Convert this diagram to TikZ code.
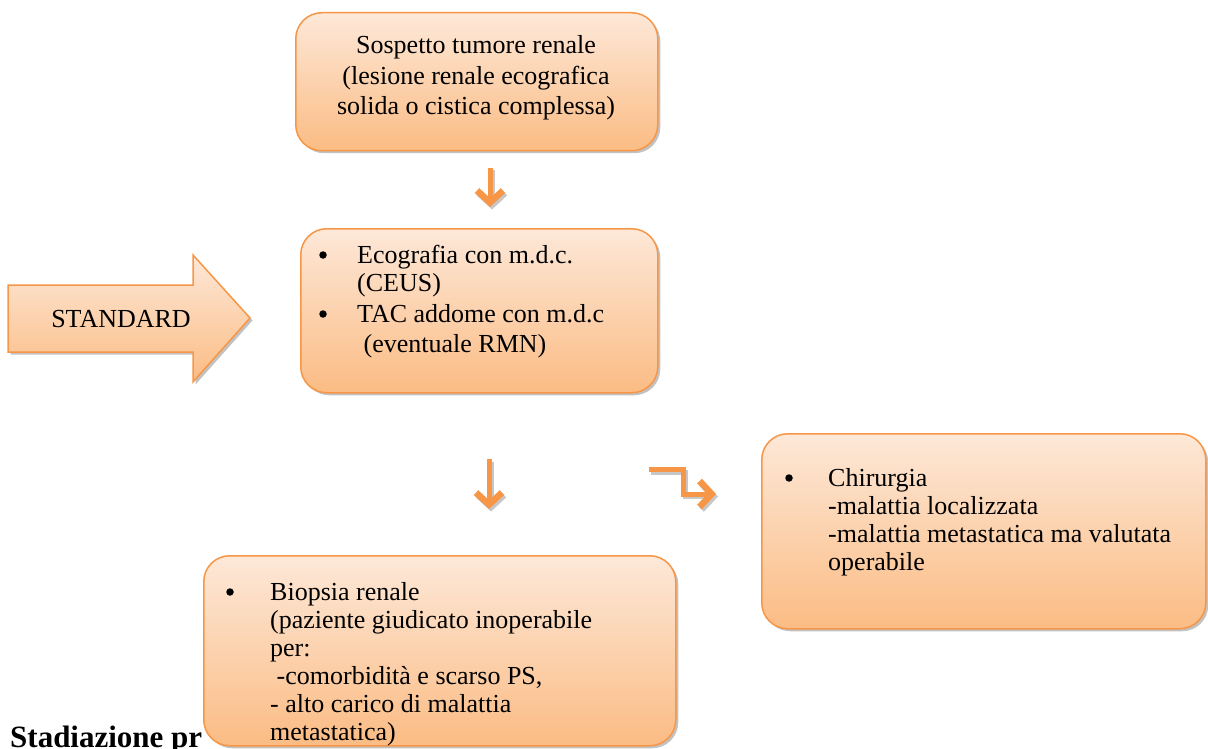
\documentclass[tikz,border=0pt]{standalone}
\usepackage{fontspec}
\setmainfont{Liberation Serif}
\usetikzlibrary{shadows,arrows.meta}
\definecolor{orb}{HTML}{F79646}
\definecolor{ortop}{HTML}{FDE8D8}
\definecolor{orbot}{HTML}{FBBC84}
\tikzset{
 box/.style={draw=orb, line width=1.5pt, rounded corners=26pt, top color=ortop, bottom color=orbot,
   drop shadow={shadow xshift=2.5pt, shadow yshift=-2.5pt, fill=black!40, opacity=0.6},
   anchor=north west, inner sep=0pt},
 txt/.style={font=\fontsize{26}{30}\selectfont, anchor=base west, inner sep=0pt},
 dot/.style={circle, fill=black, inner sep=0pt, minimum size=7.5pt},
 arr/.style={draw=orb, line width=5pt, -{Straight Barb[length=12pt, width=26pt, line width=6.5pt]}},
 arrsh/.style={draw=black!22, line width=5pt, -{Straight Barb[length=12pt, width=26pt, line width=6.5pt]}},
}
\begin{document}
\begin{tikzpicture}[x=1pt,y=-1pt]
\useasboundingbox (0,0) rectangle (1208,749);
% heading (partly hidden)
\node[font=\fontsize{31}{34}\selectfont\bfseries, anchor=base west, inner sep=0pt] (head) at (10,747) {Stadiazione pr};
% boxes
\node[box, minimum width=362pt, minimum height=138pt] (b1) at (295,12) {};
\node[box, minimum width=357pt, minimum height=164pt] (b2) at (300,228) {};
\node[box, minimum width=444pt, minimum height=195pt] (b3) at (761,433) {};
\node[box, minimum width=472pt, minimum height=190pt] (b4) at (203,555) {};
% standard arrow
\path[draw=orb, line width=1.5pt, top color=ortop, bottom color=orbot,
   drop shadow={shadow xshift=2.5pt, shadow yshift=-2.5pt, fill=black!40, opacity=0.6}]
  (8,285) -- (193,285) -- (193,255) -- (250,318) -- (193,382) -- (193,352) -- (8,352) -- cycle;
\node[txt, anchor=base] (std) at (121,327) {STANDARD};
% box 1 text
\node[txt, anchor=base] (t11) at (476,54) {Sospetto tumore renale};
\node[txt, anchor=base] (t12) at (476,85) {(lesione renale ecografica};
\node[txt, anchor=base] (t13) at (476,115) {solida o cistica complessa)};
% box 2 text
\node[dot] (p21) at (323,255) {};
\node[txt] (t21) at (357,263) {Ecografia con m.d.c.};
\node[txt] (t22) at (357,291) {(CEUS)};
\node[dot] (p22) at (323,314) {};
\node[txt] (t23) at (357,322) {TAC addome con m.d.c};
\node[txt] (t24) at (357,352) {\ (eventuale RMN)};
% box 3 text
\node[dot] (p31) at (789,478) {};
\node[txt] (t31) at (828,486) {Chirurgia};
\node[txt] (t32) at (828,514) {-malattia localizzata};
\node[txt] (t33) at (828,542) {-malattia metastatica ma valutata};
\node[txt] (t34) at (828,570) {operabile};
% box 4 text
\node[dot] (p41) at (230,592) {};
\node[txt] (t41) at (270,600) {Biopsia renale};
\node[txt] (t42) at (270,628) {(paziente giudicato inoperabile};
\node[txt] (t43) at (270,656) {per:};
\node[txt] (t44) at (270,684) {\ -comorbidità e scarso PS,};
\node[txt] (t45) at (270,712) {- alto carico di malattia};
\node[txt] (t46) at (270,740) {metastatica)};
% small arrows
\coordinate (a1s) at (490,168); \coordinate (a1e) at (490,207);
\coordinate (a2s) at (489,459); \coordinate (a2e) at (489,509);
\coordinate (a3s) at (649,469.5); \coordinate (a3m) at (683,469.5); \coordinate (a3n) at (683,494); \coordinate (a3e) at (716,494);
\draw[arrsh, transform canvas={shift={(2pt,-2.5pt)}}] (a1s) -- (a1e);
\draw[arrsh, transform canvas={shift={(2pt,-2.5pt)}}] (a2s) -- (a2e);
\draw[arrsh, transform canvas={shift={(2pt,-2.5pt)}}] (a3s) -- (a3m) -- (a3n) -- (a3e);
\draw[arr] (a1s) -- (a1e);
\draw[arr] (a2s) -- (a2e);
\draw[arr] (a3s) -- (a3m) -- (a3n) -- (a3e);
\end{tikzpicture}
\end{document}
